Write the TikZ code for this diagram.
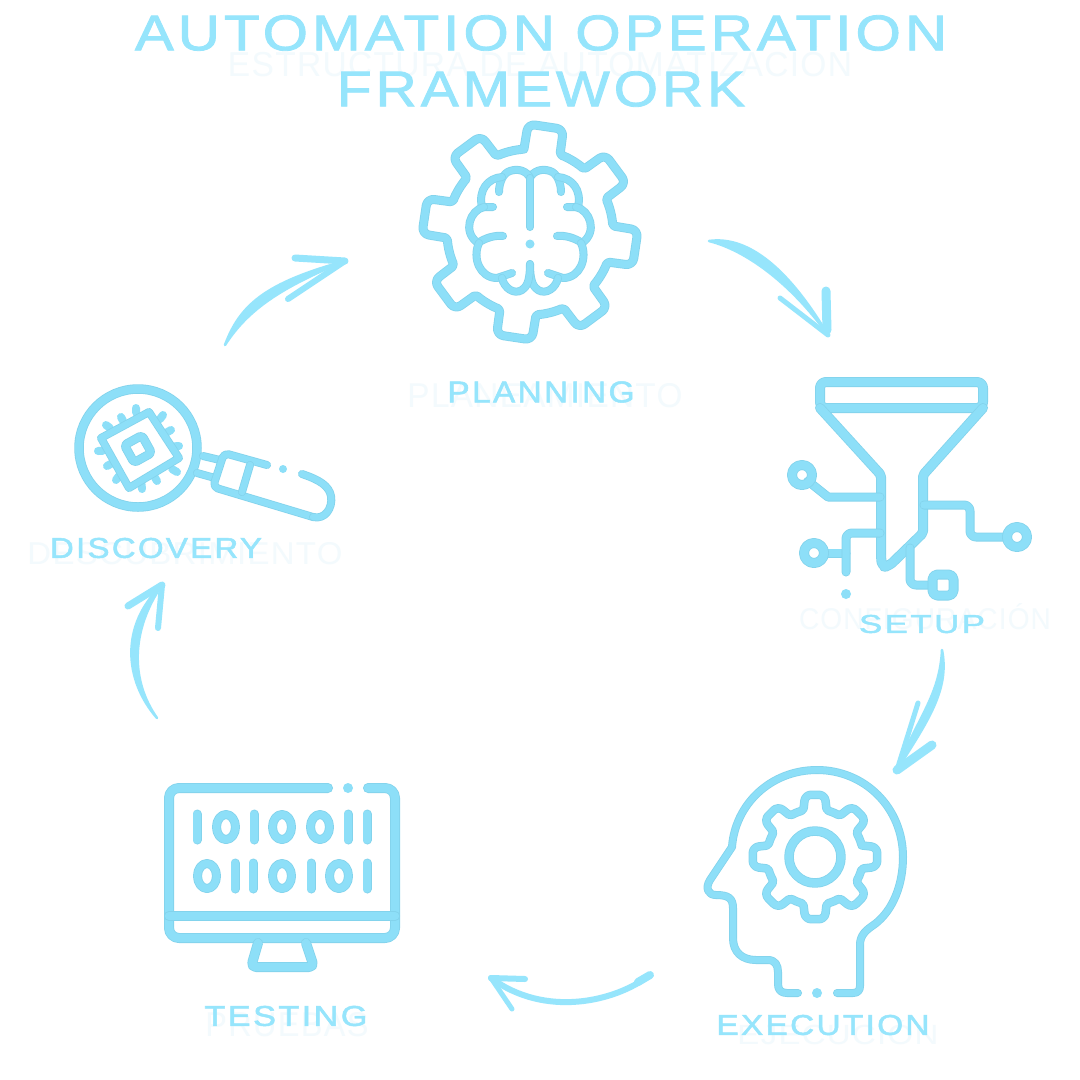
\documentclass[tikz,border=0pt]{standalone}
\usepackage{graphicx}
\usepackage{fontspec}
\setmainfont{Liberation Sans}[LetterSpace=4]
\newfontfamily\labelfont{Liberation Sans}[LetterSpace=7, FakeBold=1.6]
\definecolor{iconblue}{HTML}{8DDFF8}
\definecolor{iconedge}{HTML}{83D3EC}
\definecolor{textblue}{HTML}{96E5FC}
\definecolor{ghostblue}{HTML}{F3FAFD}
\tikzset{
  icon/.style={draw=iconedge, line width=#1, line cap=round, line join=round,
    postaction={draw=iconblue, line width=#1-1.6}},
  icon/.default=8,
  spot/.style={fill=iconblue, draw=none},
  sketch/.style={fill=textblue, draw=textblue, line width=2.5, line join=round},
  barb/.style={draw=textblue, line width=#1, line cap=round},
  label/.style={text=textblue, inner sep=0pt, font=\labelfont},
  ghost/.style={text=ghostblue, inner sep=0pt},
}
% width, height, text
\newcommand{\fitlabel}[3]{\resizebox{#1pt}{#2pt}{#3}}
% tooth angle, tip radius, root radius, half width at tip, half width at root, tip rounding
\newcommand{\gearpath}[6]{({#1-#5}:#3) \foreach \a in {0,45,...,315} {
    [rounded corners=#6] -- ({#1+\a-#4}:#2) -- ({#1+\a+#4}:#2) [rounded corners=2] -- ({#1+\a+#5}:#3)
    arc[start angle={#1+\a+#5}, end angle={#1+\a+45-#5}, radius=#3] } -- cycle}
\begin{document}
\begin{tikzpicture}[x=1pt, y=1pt, yscale=-1]
  \useasboundingbox[fill=white] (0,0) rectangle (1080,1080);
  % faint text behind the labels
  \node[ghost] (ghosttitle) at (540,62) {\fitlabel{624}{30}{ESTRUCTURA DE AUTOMATIZACI\'ON}};
  \node[ghost] (ghostplan) at (545,396) {\fitlabel{275}{24}{PLANEAMIENTO}};
  \node[ghost] (ghostconf) at (925,617) {\fitlabel{252}{26}{CONFIGURACI\'ON}};
  \node[ghost] (ghostdisc) at (185,554) {\fitlabel{315}{22}{DESCUBRIMIENTO}};
  \node[ghost] (ghostexec) at (838,1033) {\fitlabel{201}{24}{EJECUCI\'ON}};
  \node[ghost] (ghosttest) at (287,1025) {\fitlabel{163}{24}{PRUEBAS}};
  % title
  \node[label] (title1) at (541,33) {\fitlabel{812}{35}{AUTOMATION OPERATION}};
  \node[label] (title2) at (541,89) {\fitlabel{408}{35}{FRAMEWORK}};
  % planning: gear and brain
  \draw[icon=9, shift={(530,232)}] \gearpath{278.5}{108}{83}{9.5}{12.7}{7};
  \begin{scope}[shift={(530,0)}]
    \foreach \s in {1,-1} {
      \begin{scope}[xscale=\s]
        \draw[icon] (0,178) .. controls (3,171) and (12,168) .. (20,171) .. controls (27,173) and (31,183) .. (31,192);
        \draw[icon] (28,177) .. controls (42,178) and (52,190) .. (48,207) -- (37,207);
        \draw[icon] (46,207) .. controls (60,210) and (68,232) .. (52,243) .. controls (45,238) and (35,235) .. (27,236);
        \draw[icon] (51,243) .. controls (58,258) and (50,278) .. (33,278) -- (18,273);
        \draw[icon] (28,278) .. controls (26,288) and (16,295) .. (8,290) .. controls (4,287) and (0,283) .. (0,264);
      \end{scope}
    }
    \draw[icon] (0,178) -- (0,227);
    \fill[spot] (0,244) circle (4.5);
  \end{scope}
  \node[label] (planning) at (541,392) {\fitlabel{187}{21}{PLANNING}};
  % setup: funnel and circuit
  \draw[icon=10, rounded corners=6] (820,408) -- (820,382) -- (983,382) -- (983,408) -- cycle;
  \draw[icon=10, rounded corners=2] (820,408) -- (881,475) -- (881,556) [rounded corners=5] -- (882,567) -- (889,566) [rounded corners=2] -- (923,533) -- (923,475) -- (983,408);
  \draw[icon=9] (808,481) -- (828,497) -- (880,497);
  \draw[icon=9, rounded corners=6] (924,505) -- (970,505) -- (970,537) -- (1006,537);
  \draw[icon=9] (825,553) -- (846,553);
  \draw[icon=9, rounded corners=6] (846,572) -- (846,533) -- (880,533);
  \draw[icon=9, rounded corners=6] (910,548) -- (910,585) -- (932,585);
  \draw[icon=10] (802,475) circle (10);
  \draw[icon=10] (814,553) circle (10);
  \draw[icon=10] (1017,537) circle (10);
  \filldraw[icon=10, fill=white, rounded corners=5] (932.5,574.5) rectangle (953.5,595.5);
  \fill[spot] (846,594) circle (5);
  \node[label] (setup) at (922,624) {\fitlabel{126}{18}{SETUP}};
  % execution: head and gear
  \draw[icon] (837,993) -- (853,993) .. controls (858,993) and (860,990) .. (860,986) -- (860,945)
    .. controls (860,935) and (866,930) .. (875,924) .. controls (893,910) and (903,885) .. (903,857)
    .. controls (903,808) and (865,770) .. (817,770) .. controls (770,770) and (735,805) .. (732,847)
    -- (710,880) .. controls (705,888) and (708,895) .. (716,895) .. controls (728,895) and (733,898) .. (733,908)
    -- (733,938) .. controls (733,952) and (742,960) .. (756,960) -- (768,960) .. controls (775,960) and (778,965) .. (778,972)
    -- (778,984) .. controls (778,990) and (781,993) .. (787,993) -- (798,993);
  \fill[spot] (817,993) circle (5);
  \draw[icon=8.5, shift={(815,857)}] \gearpath{0}{63}{48}{9}{14}{6};
  \draw[icon=9.5] (815,857) circle (26);
  \node[label] (execution) at (823,1025) {\fitlabel{213}{20}{EXECUTION}};
  % testing: monitor and binary digits
  \draw[icon=10, rounded corners=10] (328,788) -- (169,788) -- (169,938) -- (395,938) -- (395,788) -- (368,788);
  \fill[spot] (348,788) circle (5);
  \draw[icon=10] (169,916) -- (395,916);
  \draw[icon=10, rounded corners=5] (258,943) -- (251,967) -- (314,967) -- (306,943);
  \foreach \x in {197,254,348,367} \draw[icon=9] (\x,814) -- (\x,840);
  \foreach \x in {226,282,320} \draw[icon=9] (\x,827) ellipse (9.5 and 12.5);
  \foreach \x in {235,253,311,367} \draw[icon=9] (\x,863) -- (\x,889);
  \foreach \x in {207,282,339} \draw[icon=9] (\x,876) ellipse (9.5 and 12.5);
  \node[label] (testing) at (286,1016) {\fitlabel{163}{20}{TESTING}};
  % discovery: magnifier and chip
  \draw[icon=9.5] (138,448) circle (59);
  \foreach \x/\y in {106/425,121/417,136/408,163/415,171/430,179/446,177/472,157/481,142/489,116/480,107/466,98/451}
    \draw[draw=iconblue, line width=8, line cap=round] (\x,\y) -- ({\x+(138-\x)*0.12},{\y+(449-\y)*0.12});
  \draw[icon] (101,438) -- (149,412) -- (179,458) -- (129,488) -- cycle;
  \draw[icon=9, rotate around={-29:(138,449)}, rounded corners=3] (128,439) rectangle (148,459);
  \draw[icon] (203,456) -- (220,460);
  \draw[icon] (197,473) -- (215,478);
  \draw[icon, rounded corners=5] (267,465) -- (224,453) -- (213,487) -- (313,517);
  \draw[icon] (313,517) .. controls (325,520) and (333,508) .. (331,496) .. controls (329,486) and (320,480) .. (302,474);
  \draw[icon] (250,465) -- (242,492);
  \fill[spot] (283,469) circle (4);
  \node[label] (discovery) at (156,548) {\fitlabel{212}{20}{DISCOVERY}};
  % arrows round the cycle
  \coordinate (plantail) at (225,345);
  \coordinate (plantip) at (345,261);
  \fill[sketch] (plantail) .. controls (240,305) and (265,283) .. (plantip) .. controls (282,287) and (248,309) .. (plantail) -- cycle;
  \draw[barb=7] (295,258) -- (plantip);
  \draw[barb=6] (288,299) -- (plantip);
  \coordinate (setuptail) at (709,241);
  \coordinate (setuptip) at (828,335);
  \fill[sketch] (setuptail) .. controls (745,236) and (785,263) .. (setuptip) .. controls (790,282) and (745,250) .. (setuptail) -- cycle;
  \draw[barb=9] (826,291) -- (827,330);
  \draw[barb=5] (780,298) -- (setuptip);
  \coordinate (exectail) at (942,650);
  \coordinate (exectip) at (897,770);
  \fill[sketch] (exectail) .. controls (950,690) and (927,722) .. (exectip) .. controls (916,720) and (940,696) .. (exectail) -- cycle;
  \draw[barb=5] (918,703) -- (exectip);
  \draw[barb=9] (932,745) -- (exectip);
  \coordinate (testtail) at (650,975);
  \coordinate (testtip) at (491,978);
  \draw[barb=6] (testtail) .. controls (615,1002) and (545,1018) .. (testtip);
  \draw[barb=8] (testtail) -- (638,982);
  \draw[barb=6] (525,979) -- (testtip);
  \draw[barb=5] (512,1009) -- (testtip);
  \coordinate (disctail) at (157,718);
  \coordinate (disctip) at (162,585);
  \fill[sketch] (disctail) .. controls (124,680) and (120,625) .. (disctip) .. controls (131,630) and (130,680) .. (disctail) -- cycle;
  \draw[barb=7] (128,606) -- (disctip);
  \draw[barb=6] (158,628) -- (disctip);
\end{tikzpicture}
\end{document}
